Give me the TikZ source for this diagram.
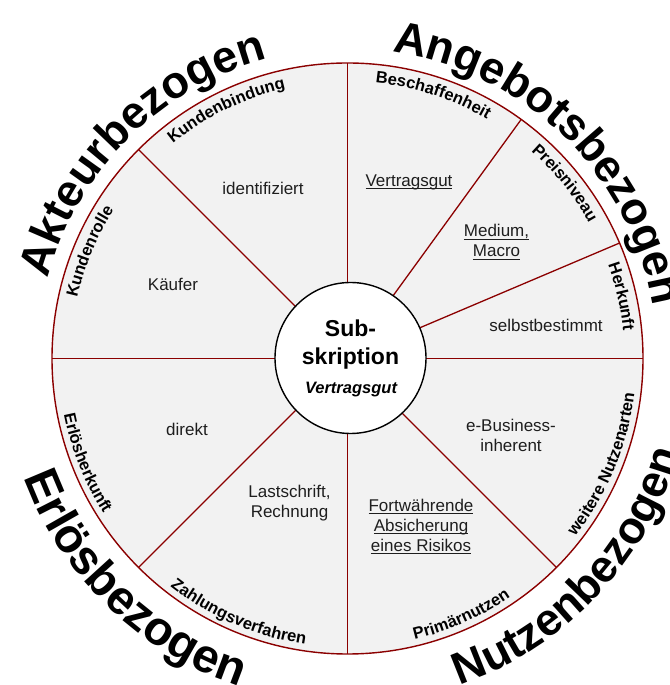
\documentclass[tikz,border=0pt]{standalone}
\usepackage{fontspec}
\setmainfont{Liberation Sans}
\usetikzlibrary{decorations.text}

\definecolor{rimred}{HTML}{8B0000}
\definecolor{sectorgray}{HTML}{F2F2F2}
\definecolor{inktext}{HTML}{1E1E1E}

% text set along an arc about (C): radius, start angle, end angle, font, text
\newcommand\bandtext[5]{%
  \path[shift={(C)}, decorate,
        decoration={text along path, text align=center, text={|#4|#5}}]
    (#2:#1) arc[start angle=#2, end angle=#3, radius=#1];}

\newcommand\sectorfont{\bfseries\fontsize{16.5}{16.5}\selectfont}
\newcommand\groupfont{\bfseries\fontsize{45}{45}\selectfont}
\newcommand\widegroupfont{\bfseries\fontsize{47.5}{47.5}\selectfont}

% underline drawn a fixed distance below the baseline
\newsavebox\ulbox
\newcommand\ulin[1]{\sbox\ulbox{#1}\rlap{\rule[-2.6pt]{\wd\ulbox}{0.9pt}}\usebox\ulbox}

\begin{document}
\begin{tikzpicture}[x=1pt,y=1pt,
  rim/.style={draw=rimred, line width=1.4pt},
  spoke/.style={draw=rimred, line width=1.3pt},
  content/.style={font=\fontsize{17}{20}\selectfont, text=inktext,
                  align=center, inner sep=0pt},
  hub/.style={circle, draw=black, line width=1.4pt, fill=white,
              minimum size=151pt, inner sep=0pt},
  hubtext/.style={anchor=base, inner sep=0pt}]
\useasboundingbox (0,0) rectangle (669,685);
\coordinate (C) at (347.5,326.5);
\def\rimr{295.5}

% disc, spokes and rim
\fill[sectorgray] (C) circle[radius=\rimr];
\foreach \a in {0,23,54,90,135,180,225,270,315}
  \draw[spoke] (C) -- ++(\a:\rimr);
\draw[rim] (C) circle[radius=\rimr];

% hub
\node[hub] (hub) at (350.5,327) {};
\node[hubtext, font=\bfseries\fontsize{23}{23}\selectfont] (sub) at (350.5,348.3) {Sub-};
\node[hubtext, font=\bfseries\fontsize{23}{23}\selectfont] (skr) at (350.5,320) {skription};
\node[hubtext, font=\bfseries\itshape\fontsize{16.5}{16.5}\selectfont] (vg) at (351,291.7) {Vertragsgut};

% sector contents
\node[content] (c1) at (263,497) {identifiziert};
\node[content] (c2) at (173,401) {Käufer};
\node[content] (c3) at (409,503) {\ulin{Vertragsgut}};
\node[content] (c4) at (496.5,443) {\ulin{Medium,}\\\ulin{Macro}};
\node[content] (c5) at (546,360) {selbstbestimmt};
\node[content] (c6) at (511,249.5) {e-Business-\\inherent};
\node[content] (c7) at (421,158.5) {\ulin{Fortwährende}\\\ulin{Absicherung}\\\ulin{eines Risikos}};
\node[content] (c8) at (187,256) {direkt};
\node[content] (c9) at (289.5,182) {Lastschrift,\\Rechnung};

% sector titles, upper half (clockwise, letters outward)
\bandtext{277}{146}{86}{\sectorfont}{Kundenbindung}
\bandtext{277}{187.4}{127.4}{\sectorfont}{Kundenrolle}
\bandtext{277}{102}{42}{\sectorfont}{Beschaffenheit}
\bandtext{277}{68.9}{8.9}{\sectorfont}{Preisniveau}
\bandtext{277}{42.75}{-17.25}{\sectorfont}{Herkunft}
% sector titles, lower half (counter-clockwise, letters inward)
\bandtext{289}{-52.5}{7.5}{\sectorfont}{weitere Nutzenarten}
\bandtext{289}{-96.1}{-36.1}{\sectorfont}{Primärnutzen}
\bandtext{289}{216.85}{276.85}{\sectorfont}{Zahlungsverfahren}
\bandtext{289}{171.8}{231.8}{\sectorfont}{Erlösherkunft}

% group titles around the rim
\bandtext{310}{180}{90}{\groupfont}{Akteurbezogen}
\bandtext{310}{95.7}{-4.3}{\groupfont}{Angebotsbezogen}
\bandtext{345}{-88.4}{1.6}{\groupfont}{Nutzenbezogen}
\bandtext{345}{181}{271}{\widegroupfont}{Erlösbezogen}
\end{tikzpicture}
\end{document}
